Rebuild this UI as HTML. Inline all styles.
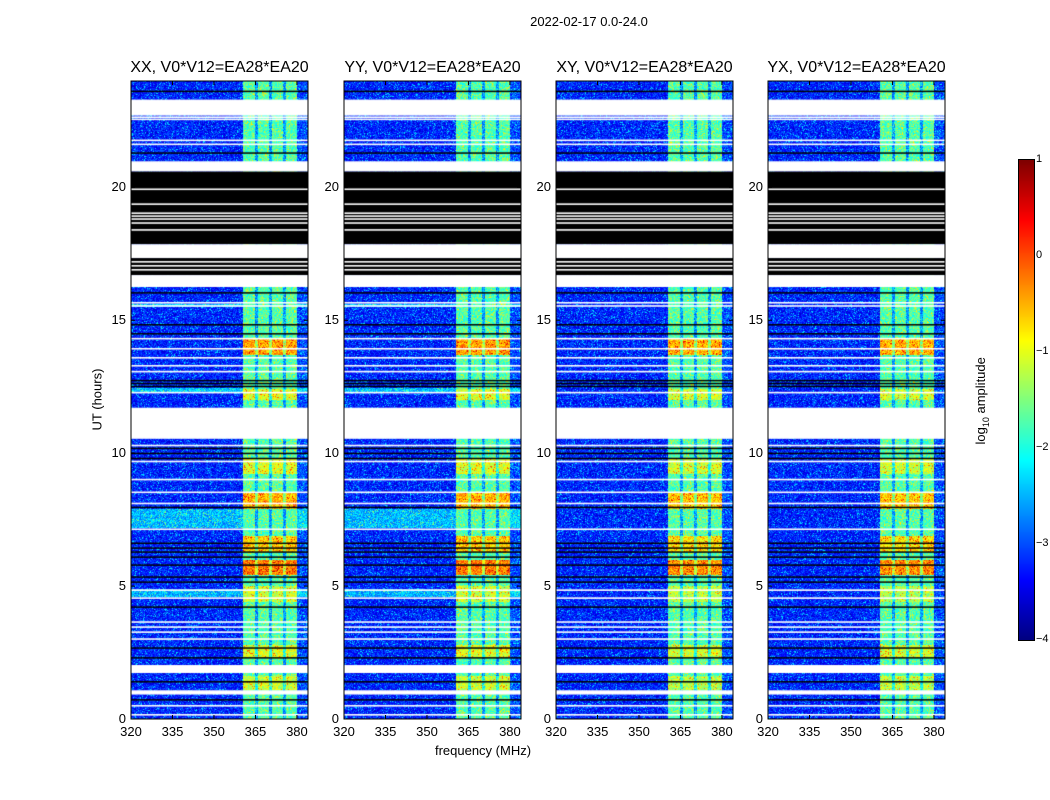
<!DOCTYPE html>
<html><head><meta charset="utf-8"><style>
body{margin:0;background:#fff;width:1050px;height:800px;position:relative;font-family:"Liberation Sans",sans-serif;overflow:hidden}
.t{position:absolute;white-space:nowrap;color:#000}
canvas{position:absolute}
</style></head><body>
<div class="t" style="left:489px;top:14px;width:200px;text-align:center;font-size:13px">2022-02-17 0.0-24.0</div>
<div class="t" style="left:383px;top:743px;width:200px;text-align:center;font-size:13px">frequency (MHz)</div>
<div class="t" style="left:47px;top:392px;width:100px;text-align:center;font-size:13px;transform:rotate(-90deg)">UT (hours)</div>
<div class="t" style="left:922px;top:392px;width:120px;text-align:center;font-size:13px;transform:rotate(-90deg)">log<sub style="font-size:9px">10</sub> amplitude</div>
<div id="root"></div>
<script>
const titles=["XX, V0*V12=EA28*EA20","YY, V0*V12=EA28*EA20","XY, V0*V12=EA28*EA20","YX, V0*V12=EA28*EA20"];
const panelLefts=[131,344,556,768];
const yTicks=[0,5,10,15,20];
const xTicks=[320,335,350,365,380];
const cbTicks=[1,0,-1,-2,-3,-4];
const whiteBlocks=[[22.7,23.3],[20.6,20.98],[17.34,17.86],[16.25,16.7],[10.54,11.71],[1.73,2.03],[0.92,1.08]];
const blackBlocks=[[17.86,20.6],[16.7,17.34]];
const whiteLines=[22.63,22.55,21.76,21.61,19.92,19.36,19.02,18.91,18.8,18.65,18.39,17.19,17.04,16.89,15.65,15.53,14.3,13.92,13.58,13.28,13.06,12.27,10.28,9.68,9.0,8.52,8.1,7.13,4.84,4.54,3.64,3.45,3.26,3.0,0.49,0.15];
const blackLines=[23.6,21.28,16.02,14.82,14.48,12.72,12.61,12.5,10.17,9.98,9.79,7.95,6.6,6.42,6.27,6.08,5.78,5.33,5.14,4.2,2.66,2.29,1.39,0.71];
const brightBands=[[13.7,14.3,-0.4],[12.0,12.4,-1.0],[9.2,9.8,-1.0],[7.9,8.5,-0.5],[6.3,6.9,-0.6],[5.4,6.0,-0.2],[4.4,5.0,-1.1],[2.3,2.8,-1.0],[1.1,1.6,-1.1]];
const bgBright=[[7.2,7.9,-2.45],[4.6,4.9,-2.5],[12.3,12.45,-2.4],[15.5,15.6,-2.4]];
const panelBgBright=[1,1,0,0];
const bandLo=360.5, bandHi=380, notches=[365.5,370.5,375.5];
const bgLevel=-3.2, bandLevel=-1.7;
const yMin=0,yMax=24,fMin=320,fMax=384;
const PT=81,PB=719,PW=177;
const yS=h=>PB-(h-yMin)/(yMax-yMin)*(PB-PT);
const xS=f=>(f-fMin)/(fMax-fMin)*PW;
function jet(t){t=Math.max(0,Math.min(1,t));const r=Math.max(0,Math.min(1,1.5-Math.abs(4*t-3))),g=Math.max(0,Math.min(1,1.5-Math.abs(4*t-2))),b=Math.max(0,Math.min(1,1.5-Math.abs(4*t-1)));return[r*255|0,g*255|0,b*255|0];}
function hash(a,b){let h=(a*374761393+b*668265263)|0;h=(h^(h>>>13))*1274126177|0;return((h^(h>>>16))>>>0)/4294967296;}
const root=document.getElementById('root');
panelLefts.forEach((L,p)=>{
  const H=PB-PT;
  const c=document.createElement('canvas');
  
  
  c.width=PW;c.height=H;c.style.left=L+'px';c.style.top=PT+'px';
  const ctx=c.getContext('2d');const img=ctx.createImageData(PW,H);
  for(let y=0;y<H;y++){
    const h=yMax-(y+0.5)/H*(yMax-yMin);
    let rowBand=bandLevel,rowBg=bgLevel;
    brightBands.forEach(b=>{if(h>=b[0]&&h<b[1])rowBand=b[2]-(p>=2?0.1:0);});
    if(panelBgBright[p])bgBright.forEach(b=>{if(h>=b[0]&&h<b[1])rowBg=b[2];});
    for(let x=0;x<PW;x++){
      const f=fMin+(x+0.5)/PW*(fMax-fMin);
      let v=rowBg;
      if(f>=bandLo&&f<bandHi){v=rowBand;if(notches.some(n=>Math.abs(f-n)<0.5))v=rowBand-0.9;}
      else if(f>=bandHi)v=rowBg+0.2;
      const r=hash(x+p*1000,y);
      v+=(r-0.5)*0.9+(r>0.93?0.5:0);
      const col=jet((v+4)/5);const i=(y*PW+x)*4;
      img.data[i]=col[0];img.data[i+1]=col[1];img.data[i+2]=col[2];img.data[i+3]=255;
    }
  }
  ctx.putImageData(img,0,0);
  blackBlocks.forEach(b=>{ctx.fillStyle='#000';ctx.fillRect(0,yS(b[1])-PT,PW,yS(b[0])-yS(b[1]));});
  whiteBlocks.forEach(b=>{ctx.fillStyle='#fff';ctx.fillRect(0,yS(b[1])-PT,PW,yS(b[0])-yS(b[1]));});
  blackLines.forEach(h=>{ctx.fillStyle='#000';ctx.fillRect(0,yS(h)-PT-1,PW,1.5);});
  whiteLines.forEach(h=>{ctx.fillStyle='#fff';ctx.fillRect(0,yS(h)-PT-1,PW,1.6);});
  root.appendChild(c);
  const ns='http://www.w3.org/2000/svg';
  const s=document.createElementNS(ns,'svg');
  
  
  s.setAttribute('width',PW+2);s.setAttribute('height',H+2);
  s.style.position='absolute';s.style.left=(L-1)+'px';s.style.top=(PT-1)+'px';
  let inner=`<rect x="1" y="1" width="${PW}" height="${H}" fill="none" stroke="#000" stroke-width="1"/>`;
  xTicks.forEach(t=>{const x=xS(t)+1;inner+=`<line x1="${x}" y1="1" x2="${x}" y2="5" stroke="#000"/><line x1="${x}" y1="${H+1}" x2="${x}" y2="${H-3}" stroke="#000"/>`;});
  yTicks.forEach(t=>{const y=yS(t)-PT+1;inner+=`<line x1="1" y1="${y}" x2="5" y2="${y}" stroke="#000"/><line x1="${PW+1}" y1="${y}" x2="${PW-3}" y2="${y}" stroke="#000"/>`;});
  s.innerHTML=inner;root.appendChild(s);
  const tt=document.createElement('div');tt.className='t';
  
  
  tt.style.cssText=`left:${L-20}px;top:59px;width:${PW+40}px;text-align:center;font-size:16px`;
  tt.textContent=titles[p];root.appendChild(tt);
  xTicks.forEach(t=>{const d=document.createElement('div');d.className='t';
    
    
    d.style.cssText=`left:${L+xS(t)-20}px;top:724px;width:40px;text-align:center;font-size:13px`;d.textContent=t;root.appendChild(d);});
  yTicks.forEach(t=>{const d=document.createElement('div');d.className='t';
    
    
    d.style.cssText=`left:${L-45}px;top:${yS(t)-8}px;width:40px;text-align:right;font-size:13px`;d.textContent=t;root.appendChild(d);});
});
const cbTop=160,cbBot=640,cbL=1019,cbW=15,cbMin=-4,cbMax=1;
const cb=document.createElement('canvas');


cb.width=cbW;cb.height=cbBot-cbTop;cb.style.left=cbL+'px';cb.style.top=cbTop+'px';cb.style.outline='1px solid #000';
const cc=cb.getContext('2d');
for(let y=0;y<cb.height;y++){const col=jet(1-y/cb.height);cc.fillStyle=`rgb(${col})`;cc.fillRect(0,y,cbW,1);}
root.appendChild(cb);
cbTicks.forEach(t=>{const y=cbTop+(cbMax-t)/(cbMax-cbMin)*(cbBot-cbTop);
  const d=document.createElement('div');d.className='t';
  
  
  d.style.cssText=`left:1036px;top:${y-7}px;font-size:11px`;d.textContent=t<0?'\u2212'+(-t):t;root.appendChild(d);});
</script>
</body></html>
